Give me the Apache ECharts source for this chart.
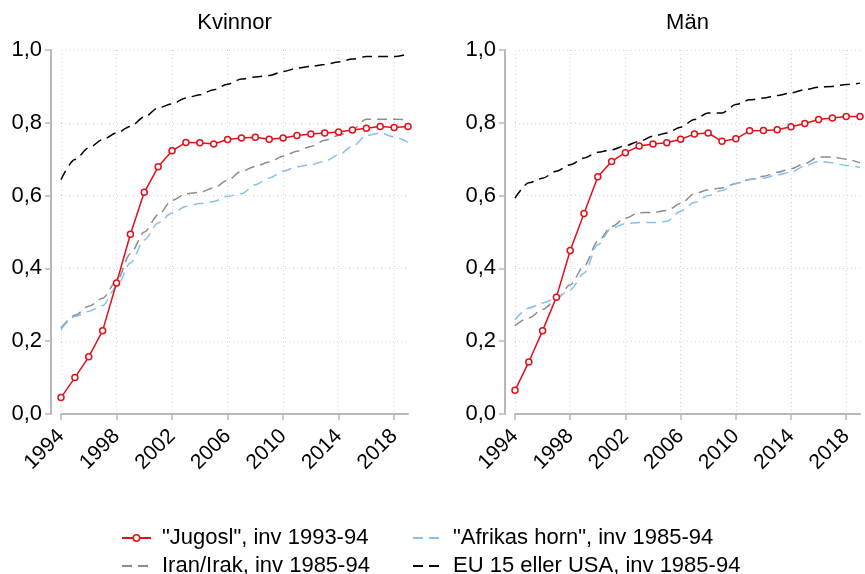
<!DOCTYPE html>
<html>
<head>
<meta charset="utf-8">
<script src="https://cdn.jsdelivr.net/npm/echarts@6/dist/echarts.min.js"></script>
<style>
  html, body { margin: 0; padding: 0; background: #fff; }
  #chart { width: 865px; height: 574px; }
</style>
</head>
<body>
<div id="chart"></div>
<script>
// years on the x axis
const years = ['1994','1995','1996','1997','1998','1999','2000','2001','2002','2003','2004','2005','2006',
  '2007','2008','2009','2010','2011','2012','2013','2014','2015','2016','2017','2018','2019']

const panelTitles = ['Kvinnor', 'Män']
const seriesNames = ['"Jugosl", inv 1993-94', 'Iran/Irak, inv 1985-94', '"Afrikas horn", inv 1985-94', 'EU 15 eller USA, inv 1985-94']
const yTicks = [0, 0.2, 0.4, 0.6, 0.8, 1.0]

// Kvinnor
const kvJugosl = [0.045, 0.100, 0.157, 0.229, 0.360, 0.494, 0.609, 0.679, 0.723, 0.746, 0.745, 0.742, 0.754,
  0.758, 0.760, 0.755, 0.758, 0.765, 0.769, 0.772, 0.775, 0.780, 0.785, 0.790, 0.787, 0.790]
const kvIran = [0.236, 0.271, 0.296, 0.318, 0.365, 0.440, 0.500, 0.547, 0.587, 0.605, 0.609, 0.621, 0.642,
  0.667, 0.680, 0.692, 0.708, 0.722, 0.735, 0.752, 0.765, 0.781, 0.810, 0.810, 0.810, 0.808]
const kvAfrika = [0.232, 0.268, 0.282, 0.298, 0.349, 0.415, 0.478, 0.525, 0.552, 0.570, 0.578, 0.584, 0.598,
  0.605, 0.630, 0.648, 0.667, 0.679, 0.685, 0.694, 0.712, 0.735, 0.765, 0.772, 0.761, 0.746]
const kvEU = [0.644, 0.699, 0.731, 0.754, 0.772, 0.790, 0.816, 0.841, 0.852, 0.868, 0.877, 0.891, 0.906,
  0.920, 0.926, 0.930, 0.941, 0.950, 0.955, 0.960, 0.967, 0.975, 0.982, 0.982, 0.982, 0.989]

// Män
const manJugosl = [0.065, 0.143, 0.229, 0.321, 0.449, 0.551, 0.652, 0.694, 0.718, 0.736, 0.742, 0.745, 0.755,
  0.769, 0.772, 0.749, 0.756, 0.778, 0.779, 0.781, 0.789, 0.798, 0.809, 0.813, 0.817, 0.817]
const manIran = [0.243, 0.264, 0.287, 0.314, 0.355, 0.406, 0.474, 0.515, 0.538, 0.553, 0.554, 0.559, 0.578,
  0.605, 0.616, 0.621, 0.633, 0.644, 0.653, 0.664, 0.674, 0.688, 0.706, 0.706, 0.700, 0.690]
const manAfrika = [0.259, 0.291, 0.305, 0.319, 0.341, 0.387, 0.465, 0.511, 0.523, 0.526, 0.526, 0.529, 0.557,
  0.581, 0.600, 0.614, 0.633, 0.644, 0.648, 0.657, 0.664, 0.682, 0.694, 0.690, 0.683, 0.678]
const manEU = [0.593, 0.635, 0.648, 0.667, 0.685, 0.703, 0.719, 0.726, 0.737, 0.749, 0.763, 0.772, 0.788,
  0.809, 0.827, 0.827, 0.850, 0.863, 0.868, 0.875, 0.882, 0.891, 0.898, 0.900, 0.905, 0.909]

const font = '"Liberation Sans", Arial, sans-serif'
const colors = ['#e3101b', '#8c8c8c', '#86c1ea', '#000000']
const axisGray = '#b8b8b8'
const gridGray = '#d4d4d4'
const dash = [10, 6]

const chart = echarts.init(document.getElementById('chart'), null, { renderer: 'canvas' })

const grids = [
  { left: 61, top: 50, width: 347, height: 364 },
  { left: 515, top: 50, width: 345, height: 364 }
]

const xAxes = grids.map((g, i) => ({
  type: 'category',
  gridIndex: i,
  data: years,
  boundaryGap: false,
  offset: 10,
  axisLine: { lineStyle: { color: axisGray, width: 2 } },
  axisTick: { interval: 3, length: 6, lineStyle: { color: axisGray, width: 1.5 } },
  axisLabel: { interval: 3, rotate: 45, margin: 9, fontSize: 21, color: '#000', fontFamily: font },
  splitLine: { show: true, interval: 3, lineStyle: { color: gridGray, type: [1, 3], width: 1 } }
}))

const yAxes = grids.map((g, i) => ({
  type: 'value',
  gridIndex: i,
  min: 0,
  max: 1,
  interval: 0.2,
  offset: 10,
  axisLine: { show: true, lineStyle: { color: axisGray, width: 2 } },
  axisTick: { show: true, length: 6, lineStyle: { color: axisGray, width: 1.5 } },
  axisLabel: {
    margin: 9, fontSize: 22, color: '#000', fontFamily: font,
    formatter: v => yTicks.includes(+v.toFixed(1)) ? v.toFixed(1).replace('.', ',') : ''
  },
  splitLine: { show: true, lineStyle: { color: gridGray, type: [1, 3], width: 1 } }
}))

function makeSeries(name, data, k, color) {
  const isMarked = k === 0
  return {
    name: name,
    type: 'line',
    data: data,
    symbol: isMarked ? 'circle' : 'none',
    symbolSize: 6,
    showSymbol: isMarked,
    smooth: isMarked ? false : 0.3,
    smoothMonotone: 'x',
    itemStyle: isMarked ? { color: '#fff', borderColor: color, borderWidth: 1.5 } : { color: color },
    lineStyle: { color: color, width: 1.5, type: isMarked ? 'solid' : dash },
    z: isMarked ? 5 : 2,
    animation: false
  }
}

const panelData = [
  [kvJugosl, kvIran, kvAfrika, kvEU],
  [manJugosl, manIran, manAfrika, manEU]
]

const series = []
panelData.forEach((set, p) => {
  set.forEach((vals, k) => {
    const s = makeSeries(seriesNames[k], vals, k, colors[k])
    s.xAxisIndex = p
    s.yAxisIndex = p
    series.push(s)
  })
})

const legendText = { fontSize: 22, color: '#000', fontFamily: font, lineHeight: 20, padding: [0, 0, 0, 6] }

function legendItem(k) {
  if (k === 0) {
    return { name: seriesNames[k], itemStyle: { color: '#fff', borderColor: colors[k], borderWidth: 1.5 } }
  }
  return { name: seriesNames[k], itemStyle: { opacity: 0 }, lineStyle: { type: dash } }
}

const option = {
  backgroundColor: '#fff',
  animation: false,
  title: panelTitles.map((t, i) => ({
    text: t,
    left: grids[i].left + grids[i].width / 2,
    textAlign: 'center',
    top: 12,
    padding: 0,
    textStyle: { fontSize: 22, fontWeight: 'normal', color: '#000', fontFamily: font }
  })),
  grid: grids,
  xAxis: xAxes,
  yAxis: yAxes,
  legend: [
    {
      orient: 'vertical', left: 121, top: 527, height: 80, itemGap: 6, itemWidth: 29, itemHeight: 8,
      padding: 0,
      data: [legendItem(0), legendItem(1)], textStyle: legendText
    },
    {
      orient: 'vertical', left: 412, top: 527, height: 80, itemGap: 6, itemWidth: 29, itemHeight: 8,
      padding: 0,
      data: [legendItem(2), legendItem(3)], textStyle: legendText
    }
  ],
  series: series
}

chart.setOption(option)
</script>
</body>
</html>
